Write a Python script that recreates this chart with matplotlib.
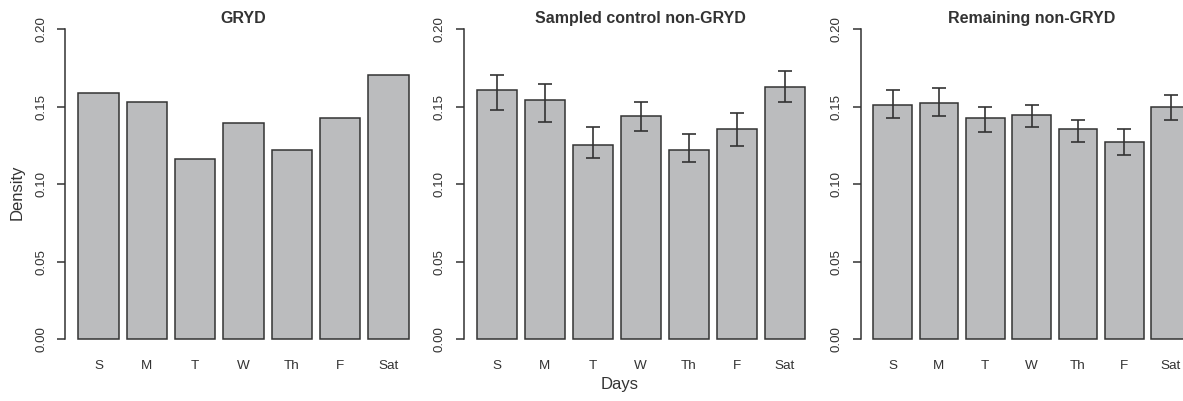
import numpy as np
import matplotlib
matplotlib.use("Agg")
import matplotlib.pyplot as plt

plt.rcParams["font.family"] = ["Liberation Sans", "DejaVu Sans"]

# Data
days = ["S", "M", "T", "W", "Th", "F", "Sat"]
titles = ["GRYD", "Sampled control non-GRYD", "Remaining non-GRYD"]

gryd = [0.1589, 0.1531, 0.1161, 0.1396, 0.1219, 0.1430, 0.1705]

control = [0.1608, 0.1542, 0.1254, 0.1439, 0.1219, 0.1355, 0.1626]
control_lo = [0.1481, 0.1404, 0.1168, 0.1346, 0.1142, 0.1247, 0.1529]
control_hi = [0.1707, 0.1649, 0.1372, 0.1531, 0.1327, 0.1462, 0.1733]

remaining = [0.1514, 0.1523, 0.1430, 0.1447, 0.1355, 0.1271, 0.1497]
remaining_lo = [0.1430, 0.1439, 0.1337, 0.1372, 0.1271, 0.1187, 0.1413]
remaining_hi = [0.1608, 0.1623, 0.1497, 0.1514, 0.1413, 0.1355, 0.1575]

yticks = [0.00, 0.05, 0.10, 0.15, 0.20]
ytick_labels = ["0.00", "0.05", "0.10", "0.15", "0.20"]

FILL = "#bbbcbe"
DARK = "#333333"

W, H = 1183, 401
fig = plt.figure(figsize=(W / 100, H / 100), dpi=100)

# panel plot regions in pixels (left, right), shared top/bottom
panels_px = [(65.1, 422.0), (463.6, 817.8), (860.6, 1202.5)]
top_px, bot_px = 17.0, 351.7

series = [
    (gryd, None, None),
    (control, control_lo, control_hi),
    (remaining, remaining_lo, remaining_hi),
]

x = 0.7 + 1.2 * np.arange(len(days))  # R barplot positions (space = 0.2)

for i, ((left, right), (vals, lo, hi)) in enumerate(zip(panels_px, series)):
    ax = fig.add_axes(
        [left / W, (H - bot_px) / H, (right - left) / W, (bot_px - top_px) / H]
    )
    ax.bar(x, vals, width=1.0, color=FILL, edgecolor=DARK, linewidth=1.1, zorder=2)
    if lo is not None:
        v = np.array(vals)
        yerr = [v - np.array(lo), np.array(hi) - v]
        ax.errorbar(
            x, v, yerr=yerr, fmt="none", ecolor=DARK,
            elinewidth=1.2, capsize=4.7, capthick=1.2, zorder=3,
        )

    ax.set_xlim(0.2 - 0.328, 8.4 + 0.328)
    ax.set_ylim(-0.008, 0.208)

    for s in ["top", "right", "bottom"]:
        ax.spines[s].set_visible(False)
    ax.spines["left"].set_bounds(0, 0.2)
    ax.spines["left"].set_color(DARK)
    ax.spines["left"].set_linewidth(1.1)

    ax.set_yticks(yticks)
    ax.set_yticklabels(ytick_labels, rotation=90, va="center", fontsize=9.6,
                       color=DARK)
    ax.tick_params(axis="y", length=6, width=1.1, color=DARK, pad=7)

    ax.set_xticks(x)
    ax.set_xticklabels(days, fontsize=9.7, color=DARK)
    ax.tick_params(axis="x", length=0, pad=6)

    ax.set_facecolor("none")
    ax.text(0.5, (bot_px - 18.5) / (bot_px - top_px), titles[i],
            transform=ax.transAxes, ha="center", va="center",
            fontsize=11.5, fontweight="bold", color=DARK)

fig.text(17 / W, 1 - 192 / H, "Density", rotation=90, ha="center", va="center",
         fontsize=12, color=DARK)
fig.text(620 / W, 1 - 384 / H, "Days", ha="center", va="center",
         fontsize=12, color=DARK)

fig.savefig("out.png", dpi=100, facecolor="white")
